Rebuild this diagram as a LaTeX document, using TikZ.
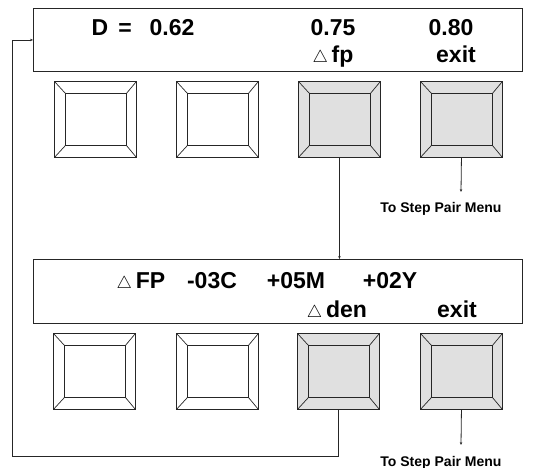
\documentclass[tikz,border=0pt]{standalone}
\usepackage{fontspec}
\setmainfont{Liberation Sans}
\usetikzlibrary{arrows.meta}
\newcommand{\tri}{{\fontsize{16}{16}\selectfont$\triangle$}}
\begin{document}
\begin{tikzpicture}[x=1pt,y=-1pt,
  ln/.style={draw=black!85, line width=0.9pt},
  btn/.style={ln, anchor=north west, minimum width=82pt, minimum height=76pt, inner sep=0pt,
    path picture={
      \draw[black!85, line width=0.9pt]
        ([xshift=11pt,yshift=-12pt]path picture bounding box.north west) rectangle
        ([xshift=-10pt,yshift=12pt]path picture bounding box.south east);
      \draw[black!85, line width=0.7pt]
        (path picture bounding box.north west) -- ([xshift=11pt,yshift=-12pt]path picture bounding box.north west)
        (path picture bounding box.north east) -- ([xshift=-10pt,yshift=-12pt]path picture bounding box.north east)
        (path picture bounding box.south west) -- ([xshift=11pt,yshift=12pt]path picture bounding box.south west)
        (path picture bounding box.south east) -- ([xshift=-10pt,yshift=12pt]path picture bounding box.south east);
    }},
  gbtn/.style={btn, fill=black!12},
  disp/.style={ln, anchor=north west, minimum width=489pt, inner sep=0pt},
  big/.style={anchor=base, inner sep=0pt, font=\fontsize{23}{23}\selectfont\bfseries},
  small/.style={anchor=base, inner sep=0pt, font=\fontsize{14}{14}\selectfont\bfseries},
  conn/.style={draw=black!85, line width=0.8pt},
  arr/.style={conn, -{Stealth[length=3pt,width=2.5pt]}}]
\useasboundingbox (0,0) rectangle (533,468);

% displays
\node[disp, minimum height=63pt] (disp1) at (33,8) {};
\node[disp, minimum height=64pt] (disp2) at (33,259) {};

% display 1 texts
\node[big] (d1a) at (100,36) {D};
\node[big] (d1b) at (125,36) {=};
\node[big] (d1c) at (172,36) {0.62};
\node[big] (d1d) at (333,36) {0.75};
\node[big] (d1e) at (451,36) {0.80};
\node[big] (d1f) at (333,63) {\tri\,fp};
\node[big] (d1g) at (456,63) {exit};

% display 2 texts
\node[big] (d2a) at (141,288) {\tri\,FP};
\node[big] (d2b) at (212,288) {-03C};
\node[big] (d2c) at (296,288) {+05M};
\node[big] (d2d) at (390,288) {+02Y};
\node[big] (d2e) at (337,317) {\tri\,den};
\node[big] (d2f) at (457,317) {exit};

% buttons row 1
\node[btn] (b11) at (54,81) {};
\node[btn] (b12) at (176,81) {};
\node[gbtn] (b13) at (298,81) {};
\node[gbtn] (b14) at (420,81) {};

% buttons row 2
\node[btn] (b21) at (53,333) {};
\node[btn] (b22) at (176,333) {};
\node[gbtn] (b23) at (297,333) {};
\node[gbtn] (b24) at (420,333) {};

% menu labels
\node[small] (t1) at (441,212) {To Step Pair Menu};
\node[small] (t2) at (441,466) {To Step Pair Menu};
\coordinate (a1) at (461,192);
\coordinate (a2) at (461,445);
\coordinate (corner) at (12,456);

% connectors
\draw[arr] (b13.south) -- (b13.south |- disp2.north);
\draw[arr] (b14.south) -- (a1);
\draw[arr] (b24.south) -- (a2);
\draw[arr] (b23.south) |- (corner) |- (disp1.west);
\end{tikzpicture}
\end{document}
